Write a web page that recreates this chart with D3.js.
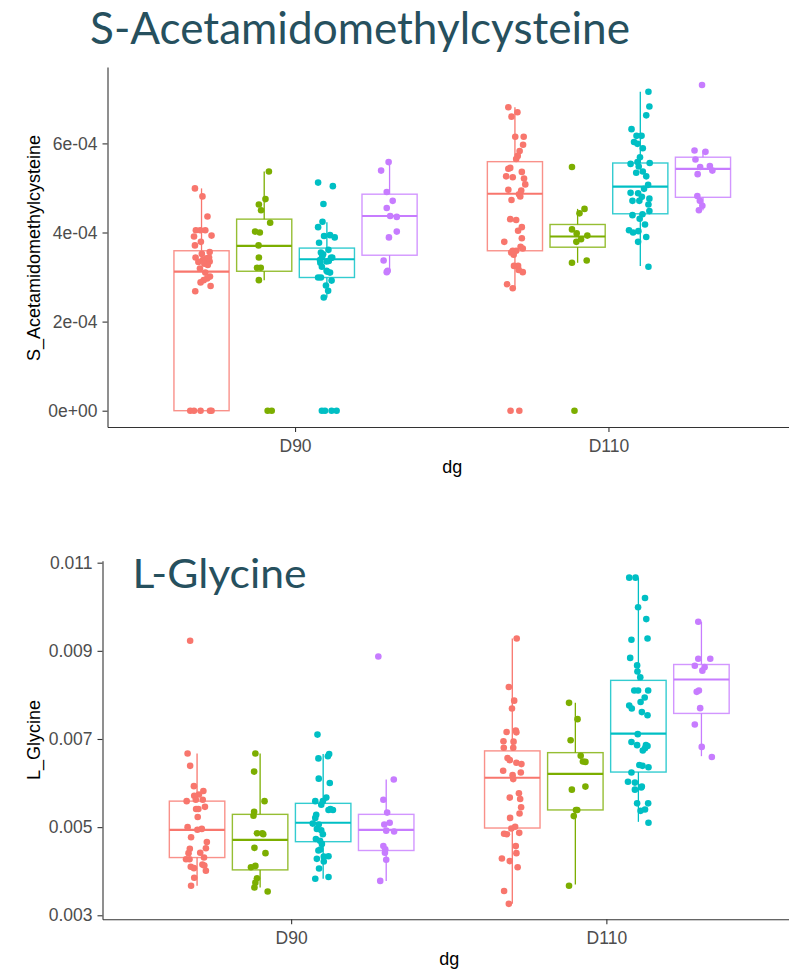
<!DOCTYPE html>
<html>
<head>
<meta charset="utf-8">
<script src="https://cdn.jsdelivr.net/npm/d3@7"></script>
<style>
  body { margin: 0; background: #fff; }
  svg { display: block; }
  text { font-family: "Liberation Sans", Arial, sans-serif; }
</style>
</head>
<body>
<svg id="chart" width="789" height="973"></svg>
<script>
// categories on the x axis and the four (unlabelled) colour groups
const categories = ['D90', 'D110'];
const groups = ['g1', 'g2', 'g3', 'g4'];
const groupColors = ['#F8766D', '#7CAE00', '#00BFC4', '#C77CFF'];

// ---- S_Acetamidomethylcysteine (values in units of 1e-4) ----
const sacUnit = 1e-4;
const sacTicks = [0, 2e-4, 4e-4, 6e-4];
// box stats per group: [lower whisker, q1, median, q3, upper whisker]
const sacBoxD90 = [
  [0, 0, 3.12, 3.59, 4.99],
  [2.93, 3.13, 3.70, 4.30, 5.37],
  [2.54, 2.99, 3.40, 3.65, 4.23],
  [3.11, 3.49, 4.37, 4.86, 5.58]
];
const sacBoxD110 = [
  [2.75, 3.59, 4.87, 5.59, 6.81],
  [3.32, 3.67, 3.91, 4.18, 4.53],
  [3.25, 4.42, 5.03, 5.56, 7.16],
  [4.50, 4.79, 5.43, 5.69, 5.84]
];
// points per group: [value, jitter in 1/100 of a category]
const sacD90 = [
  [[4.99,-2.1],[4.81,0.3],[4.36,1.9],[4.05,-1.8],[4.05,-0.4],[4.05,1.2],[3.91,-2.4],[3.93,3.2],[3.79,-0.2],[3.71,-2.1],[3.56,2.6],[3.52,0.1],[3.44,-1.9],[3.44,2.4],[3.42,1.6],[3.38,0.4],[3.35,1.4],[3.35,2.6],[3.34,-1.0],[3.30,0.9],[3.27,2.0],[3.19,-0.5],[3.10,1.2],[3.01,2.7],[2.97,1.8],[2.93,0.7],[2.88,-0.3],[2.80,2.9],[2.68,-2.0],[0,-3.6],[0,-2.4],[0,-0.3],[0,2.7],[0,3.2]],
  [[5.37,1.5],[4.75,0.4],[4.63,-1.7],[4.50,-1.0],[4.22,1.9],[4.02,-2.9],[4.00,-1.4],[3.71,-1.8],[3.44,-1.7],[3.21,-2.3],[3.21,-1.1],[2.93,-1.7],[0,1.1],[0,2.4]],
  [[5.12,-2.8],[5.04,1.9],[4.64,-1.1],[4.24,-1.4],[4.12,-2.8],[3.92,-0.9],[3.94,1.0],[3.89,2.5],[3.77,-2.5],[3.61,0.5],[3.55,-1.9],[3.51,-1.2],[3.46,-1.5],[3.44,1.7],[3.43,1.3],[3.38,-2.2],[3.36,0.6],[3.35,-0.1],[3.32,-2.1],[3.23,-1.6],[3.14,-0.1],[3.12,0.2],[3.10,1.0],[2.99,-2.8],[2.99,-1.9],[2.92,1.5],[2.81,-0.3],[2.69,0.4],[2.54,-1.0],[0,-1.6],[0,-0.6],[0,1.5],[0,3.1]],
  [[5.58,-0.3],[5.39,-2.7],[4.91,-0.9],[4.71,1.0],[4.55,-0.9],[4.37,0.2],[4.35,2.3],[4.02,2.3],[3.89,-0.2],[3.37,-1.9],[3.14,-0.6],[3.11,-0.9]]
];
const sacD110 = [
  [[6.81,-2.1],[6.70,0.8],[6.60,-1.1],[6.15,0.1],[6.15,2.8],[5.97,2.6],[5.83,1.5],[5.72,0.9],[5.65,0.4],[5.43,-2.1],[5.45,-1.5],[5.36,2.2],[5.26,-2.8],[5.24,-0.7],[5.21,2.9],[5.08,3.3],[4.96,-2.1],[4.94,2.0],[4.86,1.3],[4.81,1.7],[4.73,-1.1],[4.30,-1.5],[4.28,0.4],[4.12,2.2],[4.04,1.0],[3.87,2.2],[3.79,-3.4],[3.68,1.8],[3.64,2.5],[3.59,-0.7],[3.59,0.4],[3.55,-1.2],[3.50,-0.4],[3.25,-0.3],[3.25,1.0],[3.16,1.2],[3.11,2.5],[2.84,-2.5],[2.75,-0.7],[0,-1.4],[0,1.4]],
  [[5.47,-1.8],[4.53,2.2],[4.43,0.6],[4.07,-1.8],[3.98,-0.3],[3.93,3.1],[3.85,1.1],[3.79,-0.4],[3.37,2.9],[3.32,-1.8],[0,-1.0]],
  [[7.16,2.6],[6.83,2.9],[6.63,1.9],[6.32,-2.8],[6.17,-1.2],[6.17,0.4],[6.03,-2.0],[5.99,-0.9],[5.89,0.8],[5.69,-0.1],[5.58,-0.9],[5.56,3.0],[5.54,-3.1],[5.48,-0.5],[5.37,0.8],[5.34,-1.3],[5.26,1.9],[5.07,2.5],[4.98,1.2],[4.89,-3.1],[4.88,-0.7],[4.80,0.5],[4.76,2.9],[4.71,-2.5],[4.71,-0.3],[4.63,2.6],[4.48,2.9],[4.41,0.7],[4.39,-2.5],[4.31,-0.2],[4.18,1.5],[4.05,-3.6],[4.03,-0.6],[4.00,-2.3],[3.90,1.9],[3.79,-0.7],[3.23,2.6]],
  [[7.31,-0.3],[5.84,-2.7],[5.81,0.8],[5.64,-2.4],[5.49,2.2],[5.47,-0.9],[5.39,3.0],[5.31,-1.7],[4.82,-1.8],[4.71,-1.0],[4.60,-0.2],[4.50,-1.3]]
];

// ---- L_Glycine (values in units of 1e-3) ----
const glyUnit = 1e-3;
const glyTicks = [0.003, 0.005, 0.007, 0.009, 0.011];
const glyBoxD90 = [
  [3.67, 4.31, 4.94, 5.59, 6.67],
  [3.63, 4.03, 4.71, 5.29, 6.67],
  [3.83, 4.67, 5.10, 5.54, 6.66],
  [3.78, 4.47, 4.94, 5.29, 6.08]
];
const glyBoxD110 = [
  [3.26, 4.98, 6.12, 6.73, 9.28],
  [3.70, 5.39, 6.21, 6.69, 7.82],
  [5.12, 6.25, 7.12, 8.33, 10.66],
  [6.61, 7.58, 8.35, 8.69, 9.66]
];
const glyD90 = [
  [[9.23,-2.2],[6.67,-3.0],[6.39,-2.2],[5.93,-1.0],[5.82,2.0],[5.74,0.6],[5.71,-0.9],[5.62,-0.4],[5.62,1.8],[5.59,-3.3],[5.46,2.5],[5.41,-0.3],[5.41,0.4],[5.23,0.2],[5.00,-3.0],[4.96,1.5],[4.94,0.1],[4.77,-1.9],[4.66,3.1],[4.52,2.8],[4.51,-2.3],[4.42,1.0],[4.41,-2.7],[4.31,2.2],[4.27,-3.5],[4.27,-2.4],[4.15,1.7],[4.13,2.3],[4.10,-2.0],[4.07,-1.0],[4.01,2.8],[3.85,-0.9],[3.67,-1.9]],
  [[6.67,-1.5],[6.26,-1.9],[5.59,1.4],[5.35,-1.9],[5.26,-2.1],[4.86,-1.0],[4.86,0.7],[4.84,1.0],[4.53,-1.8],[4.41,1.7],[4.12,-1.5],[4.09,-2.9],[3.84,-1.0],[3.74,-1.5],[3.63,-1.8],[3.54,2.4]],
  [[7.10,-1.8],[6.66,1.9],[6.61,1.5],[6.56,-1.5],[6.10,-1.4],[6.00,2.1],[5.67,1.0],[5.59,-2.5],[5.59,-0.1],[5.51,-0.6],[5.41,2.3],[5.39,1.7],[5.39,3.1],[5.28,-2.2],[5.21,-2.5],[5.08,-3.3],[5.06,-1.4],[4.96,-2.0],[4.93,-0.6],[4.84,-0.1],[4.73,-2.3],[4.69,-1.0],[4.62,-0.4],[4.49,-0.9],[4.47,-1.5],[4.34,1.7],[4.33,0.2],[4.28,-2.0],[4.22,0.2],[4.06,-1.3],[3.87,1.7],[3.83,-2.5]],
  [[8.87,-2.5],[6.08,2.4],[5.62,-0.9],[5.33,0.3],[5.10,1.1],[5.06,-0.6],[4.92,0.0],[4.90,2.5],[4.57,-0.9],[4.50,-0.3],[4.42,-0.4],[4.26,0.0],[3.78,-1.9]]
];
const glyD110 = [
  [[9.28,1.4],[8.18,-1.1],[7.87,0.6],[7.69,-0.1],[7.19,1.1],[7.16,-1.8],[7.15,1.3],[6.95,-2.8],[6.94,0.4],[6.80,-2.7],[6.80,0.3],[6.57,-1.5],[6.52,-0.8],[6.46,1.3],[6.43,2.9],[6.28,-2.9],[6.24,2.7],[6.18,0.1],[6.09,0.3],[5.77,2.1],[5.67,-0.8],[5.64,2.5],[5.45,2.8],[5.31,2.3],[5.21,-0.7],[5.01,0.9],[4.97,-0.3],[4.87,2.2],[4.85,-2.6],[4.84,-1.7],[4.57,1.1],[4.41,1.3],[4.29,-3.3],[4.23,-0.8],[4.09,1.7],[3.55,-2.6],[3.26,-1.1]],
  [[7.82,-2.0],[7.45,0.7],[6.97,-1.5],[6.62,1.7],[6.49,2.4],[6.48,3.2],[5.92,3.2],[5.85,-1.1],[5.39,0.2],[5.39,0.6],[5.25,-0.5],[3.67,-2.0]],
  [[10.66,-2.9],[10.66,-0.9],[10.20,2.1],[9.99,-0.1],[9.72,2.5],[9.28,2.9],[9.25,-2.2],[8.84,-2.6],[8.67,-0.4],[8.53,-0.3],[8.40,0.6],[8.10,-1.3],[8.10,-0.1],[8.10,3.1],[7.94,2.0],[7.84,0.7],[7.76,-2.9],[7.69,-2.1],[7.61,1.1],[7.54,2.9],[7.11,-0.2],[6.93,-2.2],[6.86,-0.4],[6.86,2.4],[6.84,2.9],[6.79,2.1],[6.74,1.4],[6.41,0.3],[6.39,1.3],[6.36,3.2],[6.24,-2.2],[6.03,-3.3],[6.01,-1.1],[5.92,1.1],[5.90,0.9],[5.85,-1.1],[5.54,-0.4],[5.54,3.1],[5.40,2.1],[5.37,0.7],[5.10,3.2]],
  [[9.66,-1.0],[8.82,-1.0],[8.82,2.8],[8.66,-2.1],[8.63,1.0],[8.55,0.3],[8.10,-0.8],[8.07,-1.5],[7.70,-0.4],[7.33,-2.1],[6.82,0.1],[6.59,3.3]]
];

const svg = d3.select('#chart');

// ggplot-like "6e-04" / "0e+00"
function sciFormat(d) {
  const [m, e] = d.toExponential(0).split('e');
  const n = Math.abs(+e);
  return m + 'e' + (+e < 0 ? '-' : '+') + (n < 10 ? '0' + n : n);
}

function drawPanel(p) {
  const g = svg.append('g');

  const x = d3.scaleBand().domain(categories)
    .range([p.left, p.right]).paddingInner(0.2).paddingOuter(0.2);
  const xg = d3.scaleBand().domain(groups)
    .range([0, x.bandwidth()]).paddingInner(0.12).paddingOuter(0.06);
  const y = d3.scaleLinear().domain(p.yDomain).range([p.bottom, p.top]);

  // axes
  const yAxis = g.append('g')
    .attr('transform', `translate(${p.left},0)`)
    .call(d3.axisLeft(y).tickValues(p.ticks).tickFormat(p.format)
      .tickSize(5).tickSizeOuter(0).tickPadding(5));
  const xAxis = g.append('g')
    .attr('transform', `translate(0,${p.bottom})`)
    .call(d3.axisBottom(x).tickSize(5).tickSizeOuter(0).tickPadding(7.5));
  [yAxis, xAxis].forEach(a => {
    a.select('.domain').attr('stroke', '#333').attr('stroke-width', 1.1);
    a.selectAll('.tick line').attr('stroke', '#333').attr('stroke-width', 1.1);
    a.selectAll('.tick text').attr('fill', '#4d4d4d')
      .style('font-size', '17.5px').style('font-family', '"Liberation Sans", Arial, sans-serif');
  });

  // axis titles
  g.append('text')
    .attr('x', (p.left + p.right) / 2).attr('y', p.bottom + 46)
    .attr('text-anchor', 'middle').style('font-size', '18px').attr('fill', '#000')
    .text('dg');
  g.append('text')
    .attr('transform', `translate(40,${p.yTitleY}) rotate(-90)`)
    .attr('text-anchor', 'middle').style('font-size', '18px').attr('fill', '#000')
    .text(p.yTitle);

  const jx = j => j / 100 * x.step();

  categories.forEach((c, ci) => {
    const boxes = p.boxes[ci];
    const pts = p.points[ci];
    groups.forEach((gr, gi) => {
      const color = groupColors[gi];
      const x0 = x(c) + xg(gr);
      const cx = x0 + xg.bandwidth() / 2;
      const [lo, q1, med, q3, hi] = boxes[gi].map(v => v * p.unit);
      const bg = g.append('g').attr('class', 'box');
      bg.append('line').attr('x1', cx).attr('x2', cx)
        .attr('y1', y(hi)).attr('y2', y(q3))
        .attr('stroke', color).attr('stroke-width', 1.3);
      bg.append('line').attr('x1', cx).attr('x2', cx)
        .attr('y1', y(q1)).attr('y2', y(lo))
        .attr('stroke', color).attr('stroke-width', 1.3);
      bg.append('rect')
        .attr('x', x0).attr('y', y(q3))
        .attr('width', xg.bandwidth()).attr('height', y(q1) - y(q3))
        .attr('fill', 'none').attr('stroke', color)
        .attr('stroke-opacity', 0.8).attr('stroke-width', 1.4);
      bg.append('line').attr('x1', x0).attr('x2', x0 + xg.bandwidth())
        .attr('y1', y(med)).attr('y2', y(med))
        .attr('stroke', color).attr('stroke-width', 2.2);

      g.append('g').selectAll('circle')
        .data(pts[gi])
        .enter().append('circle')
        .attr('cx', d => cx + jx(d[1]))
        .attr('cy', d => y(d[0] * p.unit))
        .attr('r', 3.3)
        .attr('fill', color);
    });
  });

  // big slide-style title
  svg.append('text')
    .attr('x', p.titleX).attr('y', p.titleY)
    .attr('textLength', p.titleLen).attr('lengthAdjust', 'spacingAndGlyphs')
    .style('font-family', 'Lato, "Open Sans", sans-serif')
    .style('font-size', p.titleSize + 'px')
    .attr('fill', '#26505e')
    .text(p.title);
}

drawPanel({
  left: 107.5, right: 797, top: 67, bottom: 427,
  yDomain: [-3.66e-5, 7.715e-4], ticks: sacTicks, format: sciFormat, unit: sacUnit,
  yTitle: 'S_Acetamidomethylcysteine', yTitleY: 248,
  boxes: [sacBoxD90, sacBoxD110], points: [sacD90, sacD110],
  title: 'S-Acetamidomethylcysteine', titleX: 90, titleY: 44, titleLen: 540, titleSize: 44
});

drawPanel({
  left: 102.5, right: 796, top: 560.7, bottom: 919.3,
  yDomain: [0.002909, 0.011045], ticks: glyTicks, format: d3.format('.3f'), unit: glyUnit,
  yTitle: 'L_Glycine', yTitleY: 740,
  boxes: [glyBoxD90, glyBoxD110], points: [glyD90, glyD110],
  title: 'L-Glycine', titleX: 132.5, titleY: 588, titleLen: 174, titleSize: 41
});
</script>
</body>
</html>
